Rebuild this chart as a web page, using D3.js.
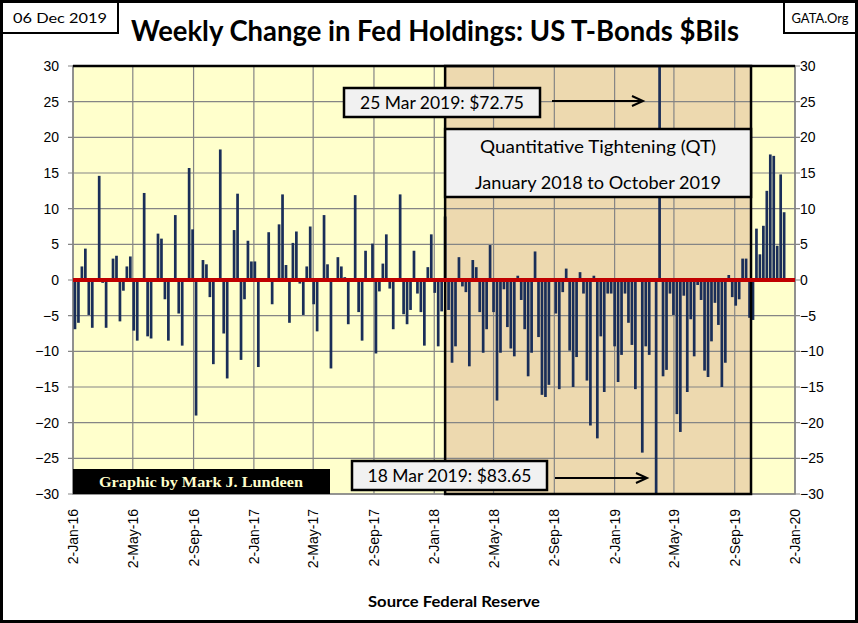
<!DOCTYPE html>
<html>
<head>
    <meta charset="utf-8">
    <title>Weekly Change in Fed Holdings</title>
    <script src="https://d3js.org/d3.v7.js"></script>
    <style>
        body { margin: 0; background: #fff; }
        svg text { font-family: "Liberation Sans", Arial, sans-serif; }
        svg text.calib { font-family: Lato, "Open Sans", sans-serif; }
        svg text.serif { font-family: "Liberation Serif", "DejaVu Serif", serif; }
    </style>
</head>
<body>
    <svg id="chart"></svg>
    <script>
        // Data
        var startDate = "2016-01-06";   // first weekly bar
        var weeklyChange = [
            -6.9, -6.0, 1.9, 4.4, -4.9, -6.7, 0, 14.6, -0.4, -6.7,
            0, 3.0, 3.4, -5.8, -1.5, 1.9, 3.3, -7.1, -8.5, 0,
            12.2, -7.9, -8.2, 0, 6.5, 5.8, -2.7, -8.5, 0, 9.1,
            -4.7, -9.2, 0, 15.7, 7.1, -19.0, 0, 2.8, 2.2, -2.4,
            -11.8, 0, 18.3, -7.5, -13.8, 0, 7.0, 12.1, -11.2, -2.7,
            5.5, 2.6, 2.6, -12.2, 0, 0, 6.7, -3.4, 0, 7.8,
            12.0, 2.1, -6.0, 5.2, 6.8, -0.5, -4.9, 1.9, 7.5, -3.4,
            -7.2, 0, 9.1, 2.2, -12.4, 0, 3.2, 1.9, 0.4, -6.2,
            0, 11.9, -4.5, -8.5, 4.1, 0, 5.1, -10.3, -1.6, 2.3,
            6.4, -1.2, -6.9, 0, 12.0, -4.8, -6.2, -4.2, 4.1, -1.9,
            -4.5, -9.2, 1.8, 6.4, -1.8, -9.3, -4.4, 8.9, -4.2, -11.6,
            -9.3, 3.2, -0.9, -1.7, -12.1, 2.8, 1.8, -4.5, -10.2, -6.9,
            4.9, -4.5, -16.9, -10.2, -1.3, -6.6, -9.6, -10.7, 0.6, -2.8,
            -6.9, -13.5, -10.2, 4.0, -8.0, -16.1, -16.4, -14.7, 0, -4.7,
            -15.3, -1.7, 1.6, -9.9, -15.0, -10.8, 1.1, -1.9, -14.1, -20.4,
            0.6, -22.2, -7.9, -15.7, -1.9, -1.9, -9.3, -14.3, -10.5, -1.9,
            -6.0, -9.1, -15.3, 0, -24.2, -9.3, -10.5, 0, -83.65, 72.75,
            -13.5, -12.6, -1.9, -4.9, -18.8, -21.3, -2.2, -15.7, -5.5, -10.7,
            -0.7, -2.8, -12.7, -13.6, -8.6, -3.2, -6.3, -15.0, -11.6, 0.7,
            -2.4, -3.6, -2.7, 3.0, 3.0, -5.3, -5.6, 7.2, 3.6, 7.6,
            12.5, 17.6, 17.4, 4.8, 14.8, 9.5
        ];
        var xTickLabels = ["2-Jan-16", "2-May-16", "2-Sep-16", "2-Jan-17", "2-May-17", "2-Sep-17",
            "2-Jan-18", "2-May-18", "2-Sep-18", "2-Jan-19", "2-May-19", "2-Sep-19", "2-Jan-20"];
        var yTicks = [-30, -25, -20, -15, -10, -5, 0, 5, 10, 15, 20, 25, 30];
        var qtPeriod = ["2018-01-24", "2019-10-05"];

        // Dimensions
        var width = 858, height = 623;
        var plotL = 73, plotR = 795, plotT = 66, plotB = 494;

        var parseTick = d3.timeParse("%d-%b-%y");
        var parseIso = d3.timeParse("%Y-%m-%d");
        var tickDates = xTickLabels.map(parseTick);
        var start = parseIso(startDate);
        var bars = weeklyChange.map(function (v, i) {
            return { date: d3.timeDay.offset(start, 7 * i), value: v };
        });

        var x = d3.scaleTime()
            .domain([tickDates[0], tickDates[tickDates.length - 1]])
            .range([plotL, plotR]);
        var y = d3.scaleLinear().domain([-30, 30]).range([plotB, plotT]);

        var svg = d3.select("#chart").attr("width", width).attr("height", height);

        svg.append("rect").attr("width", width).attr("height", height).attr("fill", "#fff");

        svg.append("clipPath").attr("id", "plotClip")
            .append("rect").attr("x", plotL).attr("y", plotT)
            .attr("width", plotR - plotL).attr("height", plotB - plotT);

        // Plot background + QT period
        svg.append("rect").attr("x", plotL).attr("y", plotT)
            .attr("width", plotR - plotL).attr("height", plotB - plotT)
            .attr("fill", "#FFFFCC");
        var qx0 = x(parseIso(qtPeriod[0])), qx1 = x(parseIso(qtPeriod[1]));
        svg.append("rect").attr("x", qx0).attr("y", plotT)
            .attr("width", qx1 - qx0).attr("height", plotB - plotT)
            .attr("fill", "#EDD9AF");

        // Gridlines
        svg.append("g").selectAll("line").data(yTicks).enter().append("line")
            .attr("x1", plotL - 5).attr("x2", plotR + 5)
            .attr("y1", function (d) { return y(d); }).attr("y2", function (d) { return y(d); })
            .attr("stroke", "#858585").attr("stroke-width", 1.2);
        svg.append("g").selectAll("line").data(tickDates).enter().append("line")
            .attr("x1", function (d) { return x(d); }).attr("x2", function (d) { return x(d); })
            .attr("y1", plotT).attr("y2", plotB)
            .attr("stroke", "#858585").attr("stroke-width", 1.2);
        svg.append("rect").attr("x", plotL).attr("y", plotT)
            .attr("width", plotR - plotL).attr("height", plotB - plotT)
            .attr("fill", "none").attr("stroke", "#858585").attr("stroke-width", 1.5);
        svg.append("line").attr("x1", plotL).attr("x2", plotR).attr("y1", plotT).attr("y2", plotT)
            .attr("stroke", "#000").attr("stroke-width", 2.5);

        // Bars
        svg.append("g").attr("clip-path", "url(#plotClip)")
            .selectAll("rect").data(bars).enter().append("rect")
            .attr("x", function (d) { return x(d.date) - 1.35; })
            .attr("width", 2.7)
            .attr("y", function (d) { return y(Math.max(0, d.value)); })
            .attr("height", function (d) { return Math.abs(y(d.value) - y(0)); })
            .attr("fill", "#1A2E58");

        // QT border on top of bars
        svg.append("rect").attr("x", qx0).attr("y", plotT)
            .attr("width", qx1 - qx0).attr("height", plotB - plotT)
            .attr("fill", "none").attr("stroke", "#000").attr("stroke-width", 2.5);

        // Zero line
        svg.append("line").attr("x1", plotL).attr("x2", plotR)
            .attr("y1", y(0)).attr("y2", y(0))
            .attr("stroke", "#C00000").attr("stroke-width", 4);

        // Y axis labels, both sides
        var yFmt = d3.format("d");
        svg.append("g").selectAll("text").data(yTicks).enter().append("text")
            .attr("x", plotL - 14).attr("y", function (d) { return y(d) + 5; })
            .attr("text-anchor", "end").attr("font-size", 14)
            .text(function (d) { return yFmt(d); });
        svg.append("g").selectAll("text").data(yTicks).enter().append("text")
            .attr("x", plotR + 5).attr("y", function (d) { return y(d) + 5; })
            .attr("text-anchor", "start").attr("font-size", 14)
            .text(function (d) { return yFmt(d); });

        // X axis labels (rotated)
        svg.append("g").selectAll("text").data(tickDates).enter().append("text")
            .attr("transform", function (d) { return "translate(" + (x(d) + 5) + "," + 509 + ") rotate(-90)"; })
            .attr("text-anchor", "end").attr("font-size", 14)
            .text(function (d, i) { return xTickLabels[i]; });

        // Annotation boxes
        function noteBox(x0, y0, w, h, lines) {
            svg.append("rect").attr("x", x0).attr("y", y0).attr("width", w).attr("height", h)
                .attr("fill", "#F1F1F1").attr("stroke", "#000").attr("stroke-width", 2.5);
            lines.forEach(function (l) {
                svg.append("text").attr("class", "calib")
                    .attr("x", x0 + w / 2).attr("y", l.y)
                    .attr("text-anchor", "middle").attr("font-size", l.size)
                    .attr("textLength", l.len).attr("lengthAdjust", "spacingAndGlyphs")
                    .text(l.text);
            });
        }
        function arrow(x1, x2, yy) {
            svg.append("line").attr("x1", x1).attr("x2", x2 - 2).attr("y1", yy).attr("y2", yy)
                .attr("stroke", "#000").attr("stroke-width", 2);
            svg.append("path")
                .attr("d", "M" + (x2 - 11) + "," + (yy - 5) + " L" + x2 + "," + yy + " L" + (x2 - 11) + "," + (yy + 5))
                .attr("fill", "none").attr("stroke", "#000").attr("stroke-width", 2);
        }

        noteBox(344, 88, 196, 29, [{ text: "25 Mar 2019: $72.75", y: 109, size: 17, len: 164 }]);
        arrow(552, 643, 101);
        noteBox(qx0, 129, qx1 - qx0, 68, [
            { text: "Quantitative Tightening (QT)", y: 153, size: 18, len: 236 },
            { text: "January 2018 to October 2019", y: 189, size: 18, len: 246 }
        ]);
        noteBox(352, 461, 195, 29, [{ text: "18 Mar 2019: $83.65", y: 482, size: 17, len: 164 }]);
        arrow(555, 647, 478);

        // Credit box
        svg.append("rect").attr("x", plotL).attr("y", 469).attr("width", 257).attr("height", 25)
            .attr("fill", "#000");
        svg.append("text").attr("class", "serif").attr("x", 201).attr("y", 487)
            .attr("text-anchor", "middle").attr("font-size", 14).attr("font-weight", "bold")
            .attr("fill", "#FFFFCC")
            .attr("textLength", 204).attr("lengthAdjust", "spacingAndGlyphs")
            .text("Graphic by Mark J. Lundeen");

        // Header
        svg.append("text").attr("class", "calib")
            .attr("x", 435).attr("y", 41).attr("text-anchor", "middle")
            .attr("font-size", 28).attr("font-weight", "bold")
            .attr("textLength", 608).attr("lengthAdjust", "spacingAndGlyphs")
            .text("Weekly Change in Fed Holdings: US T-Bonds $Bils");

        svg.append("rect").attr("x", 2).attr("y", 2).attr("width", 116).attr("height", 31)
            .attr("fill", "#fff").attr("stroke", "#000").attr("stroke-width", 2);
        svg.append("text").attr("class", "calib")
            .attr("x", 60).attr("y", 23).attr("text-anchor", "middle").attr("font-size", 14)
            .attr("textLength", 94).attr("lengthAdjust", "spacingAndGlyphs")
            .text("06 Dec 2019");
        svg.append("rect").attr("x", 784).attr("y", 2).attr("width", 72).attr("height", 31)
            .attr("fill", "#fff").attr("stroke", "#000").attr("stroke-width", 2);
        svg.append("text").attr("class", "calib")
            .attr("x", 820).attr("y", 23).attr("text-anchor", "middle").attr("font-size", 14)
            .attr("textLength", 57).attr("lengthAdjust", "spacingAndGlyphs")
            .text("GATA.Org");

        // Source
        svg.append("text").attr("class", "calib")
            .attr("x", 454).attr("y", 607).attr("text-anchor", "middle")
            .attr("font-size", 15).attr("font-weight", "bold")
            .attr("textLength", 172).attr("lengthAdjust", "spacingAndGlyphs")
            .text("Source Federal Reserve");

        // Outer frame
        svg.append("rect").attr("x", 1.5).attr("y", 1.5).attr("width", width - 3).attr("height", height - 3)
            .attr("fill", "none").attr("stroke", "#000").attr("stroke-width", 3);
    </script>
</body>
</html>
